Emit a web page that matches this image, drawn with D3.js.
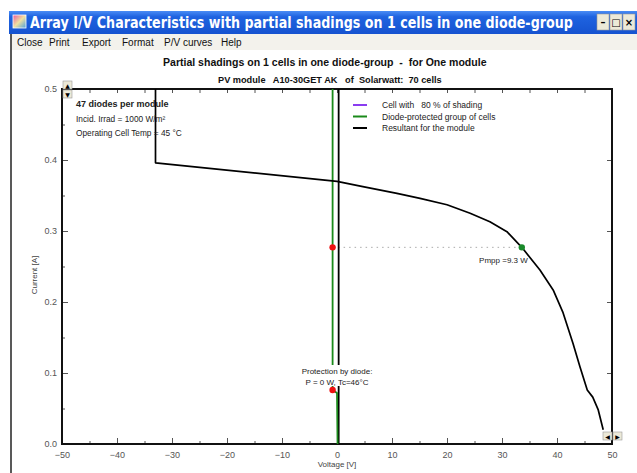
<!DOCTYPE html>
<html><head><meta charset="utf-8">
<script src="https://cdn.jsdelivr.net/npm/d3@7"></script>
<style>
html,body{margin:0;padding:0;background:#fff;}
svg{display:block;}
text{white-space:pre;}
</style></head>
<body>
<script>
// ---- data ----
const windowTitle = "Array I/V Characteristics with partial shadings on 1 cells in one diode-group";
const menuItems = ["Close", "Print", "Export", "Format", "P/V curves", "Help"];
const chartTitle = "Partial shadings on 1 cells in one diode-group  -  for One module";
const chartSubtitle = "PV module   A10-30GET AK   of  Solarwatt:  70 cells";
const infoLines = ["47 diodes per module", "Incid. Irrad = 1000 W/m\u00B2", "Operating Cell Temp = 45 \u00B0C"];
const legendLabels = ["Cell with   80 % of shading", "Diode-protected group of cells", "Resultant for the module"];
const legendColors = ["#8a3cf0", "#1a8a1a", "#000000"];

const xTickValues = [-50, -40, -30, -20, -10, 0, 10, 20, 30, 40, 50];
const yTickValues = [0.0, 0.1, 0.2, 0.3, 0.4, 0.5];

// resultant for the module
const moduleVoltage = [-33, -33, 0, 4.7, 10.9, 15.1, 20, 24.2, 27.8, 30.9, 33.6, 36.9, 39.3, 41.1, 42.9, 44.2, 45.5, 46.5, 47.5, 48.4];
const moduleCurrent = [0.5, 0.396, 0.370, 0.3625, 0.353, 0.346, 0.337, 0.325, 0.313, 0.299, 0.277, 0.245, 0.217, 0.185, 0.142, 0.108, 0.076, 0.066, 0.048, 0.020];
// diode-protected group of cells
const groupVoltage = [-0.8, -0.8, 0.0, 0.1];
const groupCurrent = [0.5, 0.076, 0.072, 0.0];
// black vertical (module branch at ~0 V)
const branchVoltage = [0.3, 0.3];
const branchCurrent = [0.5, 0.0];
// cell with shading (not visible in range)
const cellVoltage = [];
const cellCurrent = [];

const redPointsV = [-0.8, -0.8];
const redPointsI = [0.277, 0.076];
const mppV = 33.6, mppI = 0.277;
const mppLabel = "Pmpp =9.3 W";
const diodeLabel = ["Protection by diode:", "P = 0 W, Tc=46\u00B0C"];

// ---- drawing ----
const W = 637, H = 473;
const svg = d3.select("body").append("svg").attr("width", W).attr("height", H);

// helper: draw text squeezed horizontally to a given width
function fitText(parent, txt, xLeft, yBase, width, attrs){
  const g = parent.append("g");
  const t = g.append("text").attr("x",0).attr("y",0).text(txt);
  Object.entries(attrs).forEach(([k,v])=>t.attr(k,v));
  const len = t.node().getComputedTextLength();
  const s = width/len;
  g.attr("transform",`translate(${xLeft},${yBase}) scale(${s},1)`);
  return g;
}

// window chrome
const defs = svg.append("defs");
const g1 = defs.append("linearGradient").attr("id","tb").attr("x1",0).attr("y1",0).attr("x2",0).attr("y2",1);
g1.append("stop").attr("offset","0").attr("stop-color","#4a8cf5");
g1.append("stop").attr("offset","0.25").attr("stop-color","#1f63e0");
g1.append("stop").attr("offset","1").attr("stop-color","#1553d0");
const g2 = defs.append("linearGradient").attr("id","ic").attr("x1",0).attr("y1",0).attr("x2",1).attr("y2",1);
g2.append("stop").attr("offset","0").attr("stop-color","#e85aa0");
g2.append("stop").attr("offset","0.5").attr("stop-color","#f0e0a0");
g2.append("stop").attr("offset","1").attr("stop-color","#4aa0e0");

svg.append("rect").attr("x",9).attr("y",11).attr("width",W-9).attr("height",23).attr("fill","url(#tb)");
svg.append("rect").attr("x",13).attr("y",15).attr("width",13).attr("height",13).attr("fill","url(#ic)").attr("stroke","#fff").attr("stroke-width",0.8);
fitText(svg, windowTitle, 30, 28, 543, {"fill":"#fff","font-family":"DejaVu Sans, Verdana, sans-serif","font-weight":"bold","font-size":16});
const btnX = [597, 610, 623];
const btnG = ["\u2013", "\u25A1", "\u00D7"];
btnX.forEach((bx,i)=>{
  svg.append("rect").attr("x",bx).attr("y",14).attr("width",12).attr("height",16).attr("fill","#ece9d8").attr("stroke","#9a9a9a").attr("stroke-width",0.6);
  svg.append("text").attr("x",bx+6).attr("y",26).attr("text-anchor","middle").attr("font-family","DejaVu Sans, sans-serif")
    .attr("font-weight","bold").attr("font-size",10).attr("fill","#000").text(btnG[i]);
});
// menu bar
svg.append("rect").attr("x",11).attr("y",34).attr("width",W-11).attr("height",16).attr("fill","#f3f2ec");
const menuX = [17, 49, 82, 122, 164, 221];
menuItems.forEach((m,i)=>{
  svg.append("text").attr("x",menuX[i]).attr("y",46).attr("font-family","Liberation Sans, Arial, sans-serif")
    .attr("font-size",10).attr("fill","#111").text(m);
});
// window left border
svg.append("line").attr("x1",11).attr("x2",11).attr("y1",34).attr("y2",H).attr("stroke","#222").attr("stroke-width",1.5);

// titles
fitText(svg, chartTitle, 163, 66, 324, {"fill":"#111","font-family":"Liberation Sans, Arial, sans-serif","font-weight":"bold","font-size":11.5});
fitText(svg, chartSubtitle, 218, 83, 224, {"fill":"#111","font-family":"Liberation Sans, Arial, sans-serif","font-weight":"bold","font-size":9});

// scales
const x = d3.scaleLinear().domain([-50, 50]).range([62, 612]);
const y = d3.scaleLinear().domain([0, 0.5]).range([444, 89]);

const plot = svg.append("g");
const font = "Liberation Sans, Arial, sans-serif";

// axes
plot.append("g").attr("transform",`translate(0,${y(0)})`)
  .call(d3.axisBottom(x).tickValues(xTickValues).tickSize(-6).tickPadding(8).tickFormat(d3.format("d")));
plot.append("g").attr("transform",`translate(${x(-50)},0)`)
  .call(d3.axisLeft(y).tickValues(yTickValues).tickSize(-6).tickPadding(5).tickFormat(d3.format(".1f")));
plot.append("g").attr("transform",`translate(0,${y(0.5)})`)
  .call(d3.axisTop(x).tickValues(d3.range(-45, 50, 5)).tickSize(-4).tickFormat(""));
plot.append("g").attr("transform",`translate(${x(50)},0)`)
  .call(d3.axisRight(y).tickValues([0.1,0.2,0.3,0.4]).tickSize(-5).tickFormat(""));
// minor ticks
plot.append("g").attr("transform",`translate(0,${y(0)})`)
  .call(d3.axisBottom(x).tickValues(d3.range(-45, 50, 10)).tickSize(-3).tickFormat(""));
plot.append("g").attr("transform",`translate(${x(-50)},0)`)
  .call(d3.axisLeft(y).tickValues([0.05,0.15,0.25,0.35,0.45]).tickSize(-3).tickFormat(""));
plot.selectAll(".domain").remove();
plot.selectAll(".tick line").attr("stroke","#555").attr("stroke-width",1);
plot.selectAll(".tick text").attr("font-family",font).attr("font-size",9).attr("fill","#555");

// frame
plot.append("rect").attr("x",x(-50)).attr("y",y(0.5)).attr("width",x(50)-x(-50)).attr("height",y(0)-y(0.5))
  .attr("fill","none").attr("stroke","#111").attr("stroke-width",2);

// axis titles
plot.append("text").attr("x",337).attr("y",467).attr("text-anchor","middle").attr("font-family",font).attr("font-size",8).attr("fill","#444").text("Voltage [V]");
plot.append("text").attr("transform","translate(37,275) rotate(-90)").attr("text-anchor","middle").attr("font-family",font).attr("font-size",8).attr("fill","#444").text("Current [A]");

// dotted mpp line
plot.append("line").attr("x1",x(redPointsV[0])).attr("x2",x(mppV)).attr("y1",y(mppI)).attr("y2",y(mppI))
  .attr("stroke","#aaa").attr("stroke-width",1).attr("stroke-dasharray","1.5,4");

const line = d3.line().x(d=>x(d[0])).y(d=>y(d[1]));
const zip = (a,b)=>a.map((v,i)=>[v,b[i]]);

plot.append("path").datum(zip(cellVoltage, cellCurrent)).attr("d",line).attr("fill","none").attr("stroke",legendColors[0]).attr("stroke-width",2);
plot.append("path").datum(zip(branchVoltage, branchCurrent)).attr("d",line).attr("fill","none").attr("stroke","#000").attr("stroke-width",1.8);
plot.append("path").datum(zip(groupVoltage, groupCurrent)).attr("d",line).attr("fill","none").attr("stroke",legendColors[1]).attr("stroke-width",1.8);
plot.append("path").datum(zip(moduleVoltage, moduleCurrent)).attr("d",line).attr("fill","none").attr("stroke","#000").attr("stroke-width",1.7).attr("stroke-linejoin","round");

// diode label with white bg
const dl = plot.append("g");
dl.append("rect").attr("x",x(0)-38).attr("y",365).attr("width",76).attr("height",21).attr("fill","#fff");
diodeLabel.forEach((t,i)=>{
  dl.append("text").attr("x",x(0)).attr("y",374+i*11).attr("text-anchor","middle").attr("font-family",font).attr("font-size",8).attr("fill","#222").text(t);
});

// markers
plot.selectAll(".red").data(zip(redPointsV, redPointsI)).enter().append("circle")
  .attr("cx",d=>x(d[0])).attr("cy",d=>y(d[1])).attr("r",3.2).attr("fill","#ee1111");
plot.append("circle").attr("cx",x(mppV)).attr("cy",y(mppI)).attr("r",3.2).attr("fill","#1a8a2a");
plot.append("text").attr("x",x(mppV)+6).attr("y",y(mppI)+16).attr("text-anchor","end").attr("font-family",font).attr("font-size",8).attr("fill","#222").text(mppLabel);

// info text
infoLines.forEach((t,i)=>{
  plot.append("text").attr("x",76).attr("y",[107,122,136][i]).attr("font-family",font)
    .attr("font-size",i===0?9:8.3).attr("font-weight",i===0?"bold":"normal").attr("fill","#222").text(t);
});

// legend
legendLabels.forEach((t,i)=>{
  const ly = 105 + i*11.5;
  plot.append("line").attr("x1",353).attr("x2",367).attr("y1",ly).attr("y2",ly).attr("stroke",legendColors[i]).attr("stroke-width",2);
  plot.append("text").attr("x",382).attr("y",ly+3).attr("font-family",font).attr("font-size",8.5).attr("fill","#222").text(t);
});

// scroll buttons
function sbtn(bx,by,glyph){
  svg.append("rect").attr("x",bx).attr("y",by).attr("width",9).attr("height",8).attr("fill","#ece9d8").attr("stroke","#999").attr("stroke-width",0.6);
  svg.append("text").attr("x",bx+4.5).attr("y",by+6.5).attr("text-anchor","middle").attr("font-size",6).attr("font-family","DejaVu Sans").attr("fill","#000").text(glyph);
}
sbtn(63,81,"\u25B2"); sbtn(63,90,"\u25BC");
sbtn(603,432,"\u25C0"); sbtn(613,432,"\u25B6");
</script>
</body></html>
